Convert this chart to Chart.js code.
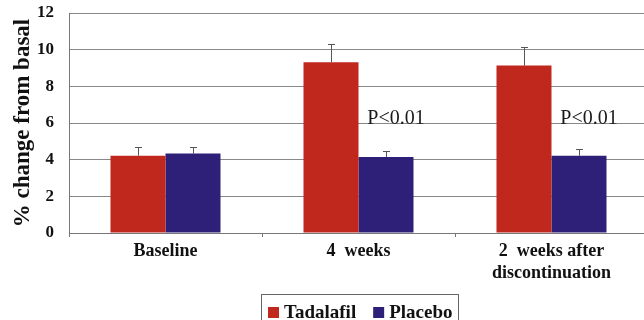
<!DOCTYPE html>
<html>
<head>
<meta charset="utf-8">
<script src="https://cdn.jsdelivr.net/npm/chart.js@4.4.1/dist/chart.umd.min.js"></script>
<style>
html,body{margin:0;padding:0;background:#fff;overflow:hidden;}
#wrap{position:relative;width:648px;height:320px;}
</style>
</head>
<body>
<div id="wrap"><canvas id="c"></canvas></div>
<script>
const categories = ['Baseline', '4  weeks', ['2  weeks after', 'discontinuation']];
const tadalafil = [4.22, 9.31, 9.13];
const tadalafilErr = [0.46, 1.0, 1.0];
const placebo = [4.33, 4.14, 4.22];
const placeboErr = [0.35, 0.33, 0.35];
const pLabels = ['', 'P<0.01', 'P<0.01'];
const yTicks = [0, 2, 4, 6, 8, 10, 12];

const FONT = '"Liberation Serif", "Times New Roman", serif';

const extras = {
  id: 'extras',
  afterDatasetsDraw(chart) {
    const ctx = chart.ctx;
    const ys = chart.scales.y;
    const errs = [tadalafilErr, placeboErr];
    ctx.save();
    ctx.strokeStyle = '#555';
    ctx.lineWidth = 1;
    chart.data.datasets.forEach((ds, di) => {
      const meta = chart.getDatasetMeta(di);
      meta.data.forEach((bar, i) => {
        const top = ys.getPixelForValue(ds.data[i] + errs[di][i]);
        const x = Math.round(bar.x) + 0.5;
        ctx.beginPath();
        ctx.moveTo(x, bar.y);
        ctx.lineTo(x, top);
        ctx.moveTo(x - 3.5, Math.round(top) + 0.5);
        ctx.lineTo(x + 3.5, Math.round(top) + 0.5);
        ctx.stroke();
      });
    });
    // p-value annotations
    const meta = chart.getDatasetMeta(1);
    ctx.fillStyle = '#1a1a1a';
    ctx.font = '20px ' + FONT;
    ctx.textAlign = 'center';
    ctx.textBaseline = 'middle';
    meta.data.forEach((bar, i) => {
      if (pLabels[i]) ctx.fillText(pLabels[i], bar.x + 10, ys.getPixelForValue(6.25));
    });
    ctx.restore();
  },
  afterDraw(chart) {
    // legend (boxed, centred under the plot)
    const ctx = chart.ctx;
    ctx.save();
    ctx.font = 'bold 19px ' + FONT;
    ctx.textBaseline = 'middle';
    ctx.textAlign = 'left';
    const sq = 11, gap = 5, itemGap = 17, padX = 7;
    const items = chart.data.datasets.map(d => ({ label: d.label, color: d.backgroundColor, w: ctx.measureText(d.label).width }));
    let total = padX * 2 - 1;
    items.forEach((it, i) => { total += sq + gap + it.w + (i ? itemGap : 0); });
    const cx = chart.scales.x.getPixelForValue(1) + 1;
    const left = Math.round(cx - total / 2);
    const top = chart.chartArea.bottom + 61;
    const midY = top + 18;
    ctx.strokeStyle = '#666';
    ctx.lineWidth = 1;
    ctx.strokeRect(left + 0.5, top + 0.5, Math.round(total), 60);
    let x = left + padX;
    items.forEach((it, i) => {
      if (i) x += itemGap;
      ctx.fillStyle = it.color;
      ctx.fillRect(x, Math.round(midY - sq / 2), sq, sq);
      x += sq + gap;
      ctx.fillStyle = '#111';
      ctx.fillText(it.label, x, midY + 1);
      x += it.w;
    });
    ctx.restore();
  }
};

new Chart(document.getElementById('c'), {
  type: 'bar',
  data: {
    labels: categories,
    datasets: [
      { label: 'Tadalafil', data: tadalafil, backgroundColor: '#C0281E', borderWidth: 0 },
      { label: 'Placebo', data: placebo, backgroundColor: '#2E2078', borderWidth: 0 }
    ]
  },
  options: {
    responsive: true,
    maintainAspectRatio: false,
    animation: false,
    layout: { padding: { top: 13, left: 0, right: 0, bottom: 0 } },
    datasets: { bar: { categoryPercentage: 0.57, barPercentage: 1.0 } },
    plugins: {
      tooltip: { enabled: false },
      legend: { display: false }
    },
    scales: {
      x: {
        grid: { display: true, drawOnChartArea: false, offset: true, color: '#777', tickLength: 4 },
        border: { color: '#777' },
        ticks: { color: '#111', font: { family: FONT, size: 18, weight: 'bold' }, padding: 4, maxRotation: 0, autoSkip: false },
        afterFit(s) { s.height = 87; }
      },
      y: {
        min: 0, max: 12,
        afterBuildTicks(s) { s.ticks = yTicks.map(v => ({ value: v })); },
        grid: { color: '#888', drawTicks: false },
        border: { color: '#777' },
        ticks: { color: '#111', padding: 15, font: { family: FONT, size: 17, weight: 'bold' } },
        title: { display: true, text: '% change from basal', color: '#111', padding: { top: 9, bottom: 0 }, font: { family: FONT, size: 23, weight: 'bold' } },
        afterFit(s) { s.width = 69; s.paddingTop = 0; s.paddingBottom = 0; }
      }
    }
  },
  plugins: [extras]
});
</script>
</body>
</html>
